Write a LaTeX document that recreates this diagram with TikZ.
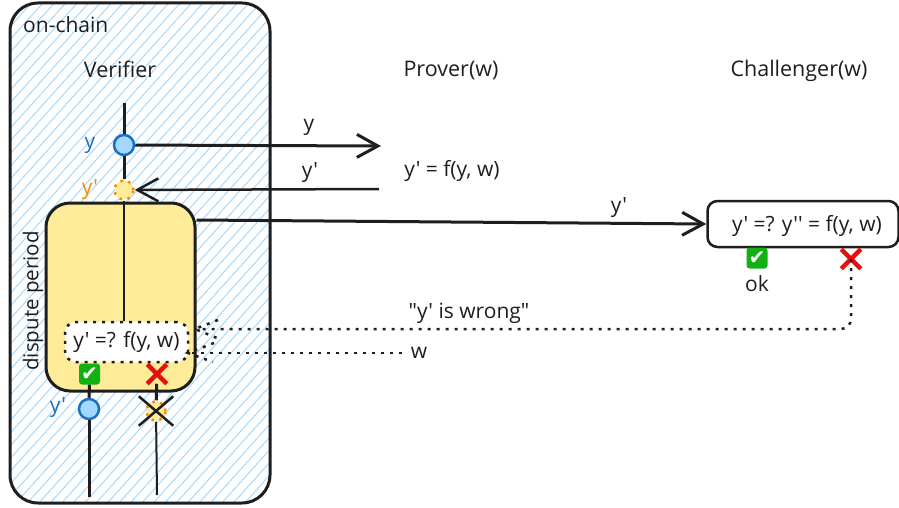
\documentclass[tikz,border=0pt]{standalone}
\usepackage{fontspec}
\setmainfont{Open Sans}[Ligatures=TeXOff]
\newfontfamily\symfont{DejaVu Sans}
\usetikzlibrary{arrows.meta,patterns.meta,shapes.misc}

\definecolor{inkblack}{HTML}{1E1E1E}
\definecolor{hatchblue}{HTML}{A5D8FF}
\definecolor{dotblue}{HTML}{1971C2}
\definecolor{dotorange}{HTML}{F08C00}
\definecolor{boxyellow}{HTML}{FFEC99}
\definecolor{okgreen}{HTML}{12B012}
\definecolor{nored}{HTML}{E60F0F}

\tikzset{
  >={Straight Barb[length=21pt,width=23pt]},
  label text/.style={font=\fontsize{21}{24}\selectfont,text=inkblack,inner sep=0pt},
  head text/.style={font=\fontsize{21.5}{24}\selectfont,text=inkblack,inner sep=0pt},
  wire/.style={draw=inkblack,line width=3pt},
  msg/.style={->,draw=inkblack,line width=2.5pt},
  dotline/.style={draw=inkblack,line width=2.5pt,dash pattern=on 3pt off 6pt},
  solid dot/.style={circle,draw=dotblue,fill=hatchblue,line width=2.5pt,minimum size=20pt,inner sep=0pt},
  dash dot/.style={circle,draw=dotorange,fill=boxyellow,line width=2.5pt,dash pattern=on 2.5pt off 5.5pt,minimum size=19pt,inner sep=0pt},
  ok mark/.style={rounded corners=3pt,fill=okgreen,text=white,minimum size=21pt,inner sep=0pt,font=\symfont\fontsize{20}{20}\selectfont},
  no mark/.style={cross out,draw=nored,line width=4.5pt,minimum size=15pt,inner sep=0pt},
}

\begin{document}
\begin{tikzpicture}[x=1pt,y=-1pt]
    \useasboundingbox (0,0) rectangle (899,508);

    % on-chain region
    \node[draw=inkblack,line width=3pt,rounded corners=28pt,minimum width=260pt,minimum height=500pt,
      pattern={Lines[angle=48,distance=8.5pt,line width=1pt]},pattern color=hatchblue] (chain) at (140,253) {};
    \node[label text,anchor=west] (chain-label) at (23,25) {on-chain};
    \node[head text] (verifier) at (120,69) {Verifier};
    \node[head text] (prover) at (451,71) {Prover(w)};
    \node[head text] (challenger) at (799,71) {Challenger(w)};

    % dispute period
    \node[draw=inkblack,fill=boxyellow,line width=3pt,rounded corners=24pt,minimum width=149pt,minimum height=188pt] (dispute) at (120.5,297) {};
    \node[label text,font=\fontsize{20.5}{24}\selectfont,rotate=90] (dispute-label) at (33,301) {dispute period};
    \node[dotline,fill=white,rounded corners=11pt,minimum width=123pt,minimum height=40pt,label text] (check) at (126.5,342) {y' =? f(y, w)};

    \coordinate (top) at (124,103);
    \node[solid dot] (y-dot) at (124,145) {};
    \node[dash dot] (yp-dot) at (124,190) {};
    \node[text=dotblue,font=\fontsize{21}{24}\selectfont,inner sep=0pt] (y-label) at (90,145) {y};
    \node[text=dotorange,font=\fontsize{21}{24}\selectfont,inner sep=0pt] (yp-label) at (90,190) {y'};
    \draw[wire] (top) -- (y-dot);
    \draw[wire] (y-dot) -- (yp-dot);
    \draw[wire,line width=2.5pt] (yp-dot) -- (yp-dot |- check.north);

    \node[ok mark] (check-ok) at (89.5,374) {✔};
    \node[no mark] (check-no) at (157,374) {};
    \node[solid dot] (yf-dot) at (89,409) {};
    \node[text=dotblue,font=\fontsize{21}{24}\selectfont,inner sep=0pt] (yf-label) at (58,408) {y'};
    \node[circle,draw=dotorange,fill=boxyellow,line width=2.5pt,dash pattern=on 2.5pt off 5.5pt,minimum size=19pt,inner sep=0pt] (dead-dot) at (156,411) {};
    \node[cross out,draw=inkblack,line width=2.5pt,minimum width=32pt,minimum height=27pt,inner sep=0pt] (dead) at (156,411) {};
    \coordinate (yf-end) at (89,497);
    \coordinate (dead-end) at (157,495);
    \draw[wire] (check-ok) -- (yf-dot);
    \draw[wire] (yf-dot) -- (yf-end);
    \draw[wire] (check-no) -- (dead-dot);
    \draw[wire,line width=2pt] (dead-dot) -- (dead-end);

    % prover side
    \coordinate (prover-in) at (381,146);
    \coordinate (prover-out) at (379,189);
    \node[label text] (prover-eq) at (452,171) {y' = f(y, w)};
    \draw[msg,line width=3pt] (y-dot) -- (prover-in);
    \draw[msg] (prover-out) -- (yp-dot);
    \node[label text] (msg-y) at (309,127) {y};
    \node[label text] (msg-yp) at (310,173) {y'};

    % challenger side
    \node[draw=inkblack,fill=white,line width=2.5pt,rounded corners=10pt,minimum width=191pt,minimum height=46pt,label text] (chal-box) at (803,224) {};
    \node[label text] (chal-eq) at (807,226) {y' =? y'' = f(y, w)};
    \draw[msg,line width=3pt] (dispute.north east |- 0,220) -- (chal-box.west);
    \node[label text] (msg-chal) at (619,208) {y'};
    \node[ok mark] (chal-ok) at (757,258) {✔};
    \node[label text] (ok-label) at (757,284) {ok};
    \node[no mark] (chal-no) at (851,259) {};

    % dotted messages
    \coordinate (wrong-corner) at (851,329);
    \coordinate (wrong-tip) at (195,329);
    \coordinate (w-end) at (402,353);
    \coordinate (w-tip) at (188,353);
    \node[label text] (wrong-label) at (469,313) {"y' is wrong"};
    \node[label text] (w-label) at (419,353) {w};
    \draw[dotline,rounded corners=10pt] (chal-no.center) -- (wrong-corner) -- (wrong-tip);
    \draw[dotline] (w-end) -- (w-tip);
    \draw[dotline] (218,320) -- (wrong-tip) -- (217,338);
    \draw[dotline] (214,343) -- (w-tip) -- (213,362);
  \end{tikzpicture}
\end{document}
